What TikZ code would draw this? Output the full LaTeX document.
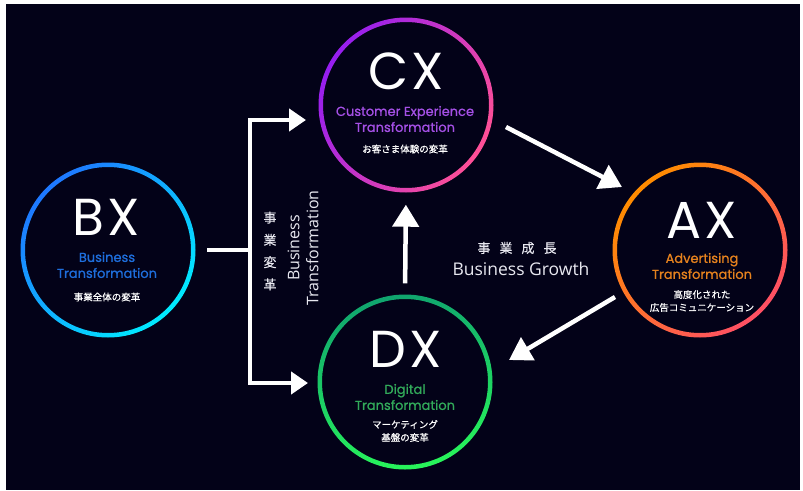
\documentclass[tikz,border=0pt]{standalone}
\usepackage{fontspec}
\setmainfont{Poppins}
\newfontfamily\popsemi[FakeBold=0.9]{Poppins}
\newfontfamily\popbig[LetterSpace=6]{Poppins}
\newfontfamily\jpfont[FakeBold=0.6]{Noto Sans CJK JP}
\newfontfamily\jpmid[FakeBold=0.4]{Noto Sans CJK JP}
\newfontfamily\osfont{Open Sans}
\usetikzlibrary{arrows.meta}
\definecolor{bg}{RGB}{3,2,24}
\definecolor{bxA}{RGB}{30,120,255}
\definecolor{bxB}{RGB}{0,235,255}
\definecolor{bxS}{RGB}{30,110,220}
\definecolor{cxA}{RGB}{150,30,240}
\definecolor{cxB}{RGB}{255,80,150}
\definecolor{cxS}{RGB}{165,80,230}
\definecolor{dxA}{RGB}{16,165,110}
\definecolor{dxB}{RGB}{40,245,90}
\definecolor{dxS}{RGB}{50,170,90}
\definecolor{axA}{RGB}{255,140,0}
\definecolor{axB}{RGB}{255,80,100}
\definecolor{axS}{RGB}{230,130,30}
\definecolor{midtxt}{RGB}{232,232,240}
\begin{document}
\begin{tikzpicture}[x=1pt,y=-1pt,
  hub/.style={circle, minimum size=175pt, inner sep=0pt},
  big/.style={text=white, inner sep=0pt, font=\popbig\fontsize{52}{52}\selectfont},
  sub/.style={inner sep=0pt, align=center, font=\popsemi\fontsize{13}{16}\selectfont},
  jpt/.style={text=white, inner sep=0pt, align=center, font=\jpfont\fontsize{9.5}{13}\selectfont},
  jpm/.style={text=midtxt, inner sep=0pt, align=center, font=\jpmid\fontsize{13}{22.3}\selectfont},
  mid/.style={text=midtxt, inner sep=0pt, align=center},
  wline/.style={draw=white, line width=4.5pt},
  arr/.style={wline, -{Triangle[length=17pt,width=22pt]}},
  barr/.style={wline, -{Triangle[length=22pt,width=26pt]}}
]
\useasboundingbox (0,0) rectangle (803,490);
\fill[white] (0,0) rectangle (803,490);
\fill[bg] (6,4) rectangle (800,490);

% hubs
\node[hub] (bx) at (108,250) {};
\node[hub] (cx) at (406,105) {};
\node[hub] (dx) at (405,382) {};
\node[hub] (ax) at (700,250) {};

\shade[even odd rule, top color=bxA, bottom color=bxB, shading angle=45]
  (bx.center) circle[radius=87.5pt] (bx.center) circle[radius=83pt];
\shade[even odd rule, top color=cxA, bottom color=cxB, shading angle=60]
  (cx.center) circle[radius=87.5pt] (cx.center) circle[radius=83pt];
\shade[even odd rule, top color=dxA, bottom color=dxB, shading angle=10]
  (dx.center) circle[radius=87.5pt] (dx.center) circle[radius=83pt];
\shade[even odd rule, top color=axA, bottom color=axB, shading angle=45]
  (ax.center) circle[radius=87.5pt] (ax.center) circle[radius=83pt];

% BX text
\node[big] (bxt) at (106,217) {BX};
\node[sub, text=bxS] (bxs) at (107,265) {Business\\Transformation};
\node[jpt] (bxj) at (107,297) {事業全体の変革};

% CX text
\node[big] (cxt) at (406,71) {CX};
\node[sub, text=cxS] (cxs) at (405,119) {Customer Experience\\Transformation};
\node[jpt] (cxj) at (405,149) {お客さま体験の変革};

% DX text
\node[big] (dxt) at (406,349) {DX};
\node[sub, text=dxS] (dxs) at (405,397) {Digital\\Transformation};
\node[jpt] (dxj) at (405,431) {マーケティング\\基盤の変革};

% AX text
\node[big] (axt) at (702,220) {AX};
\node[sub, text=axS] (axs) at (702,266) {Advertising\\Transformation};
\node[jpt] (axj) at (702,301) {高度化された\\広告コミュニケーション};

% bracket
\coordinate (brL) at (207,250);
\coordinate (brJ) at (250,250);
\coordinate (toCX) at (306,120);
\coordinate (toDX) at (308,383);
\draw[wline] (brL) -- (brJ);
\draw[arr, line join=miter] (brJ) |- (toCX);
\draw[arr, line join=miter] (brJ) |- (toDX);

\node[jpm] (btjp) at (270,251) {事\\業\\変\\革};
\node[mid, rotate=90, font=\osfont\fontsize{16}{19}\selectfont] (bt) at (303,248) {Business\\Transformation};

% growth arrows
\draw[barr, shorten <=11pt, shorten >=12pt] (dx.north) -- (cx.south);
\coordinate (c2a1) at (506,127);
\coordinate (c2a2) at (622,187);
\coordinate (a2d1) at (615,297);
\coordinate (a2d2) at (509,360);
\draw[barr] (c2a1) -- (c2a2);
\draw[barr] (a2d1) -- (a2d2);

\node[jpm] (grjp) at (517,248) {事\hspace{9pt}業\hspace{9pt}成\hspace{9pt}長};
\node[mid, font=\osfont\fontsize{17.5}{20}\selectfont] (gr) at (521,269) {Business Growth};
\end{tikzpicture}
\end{document}
